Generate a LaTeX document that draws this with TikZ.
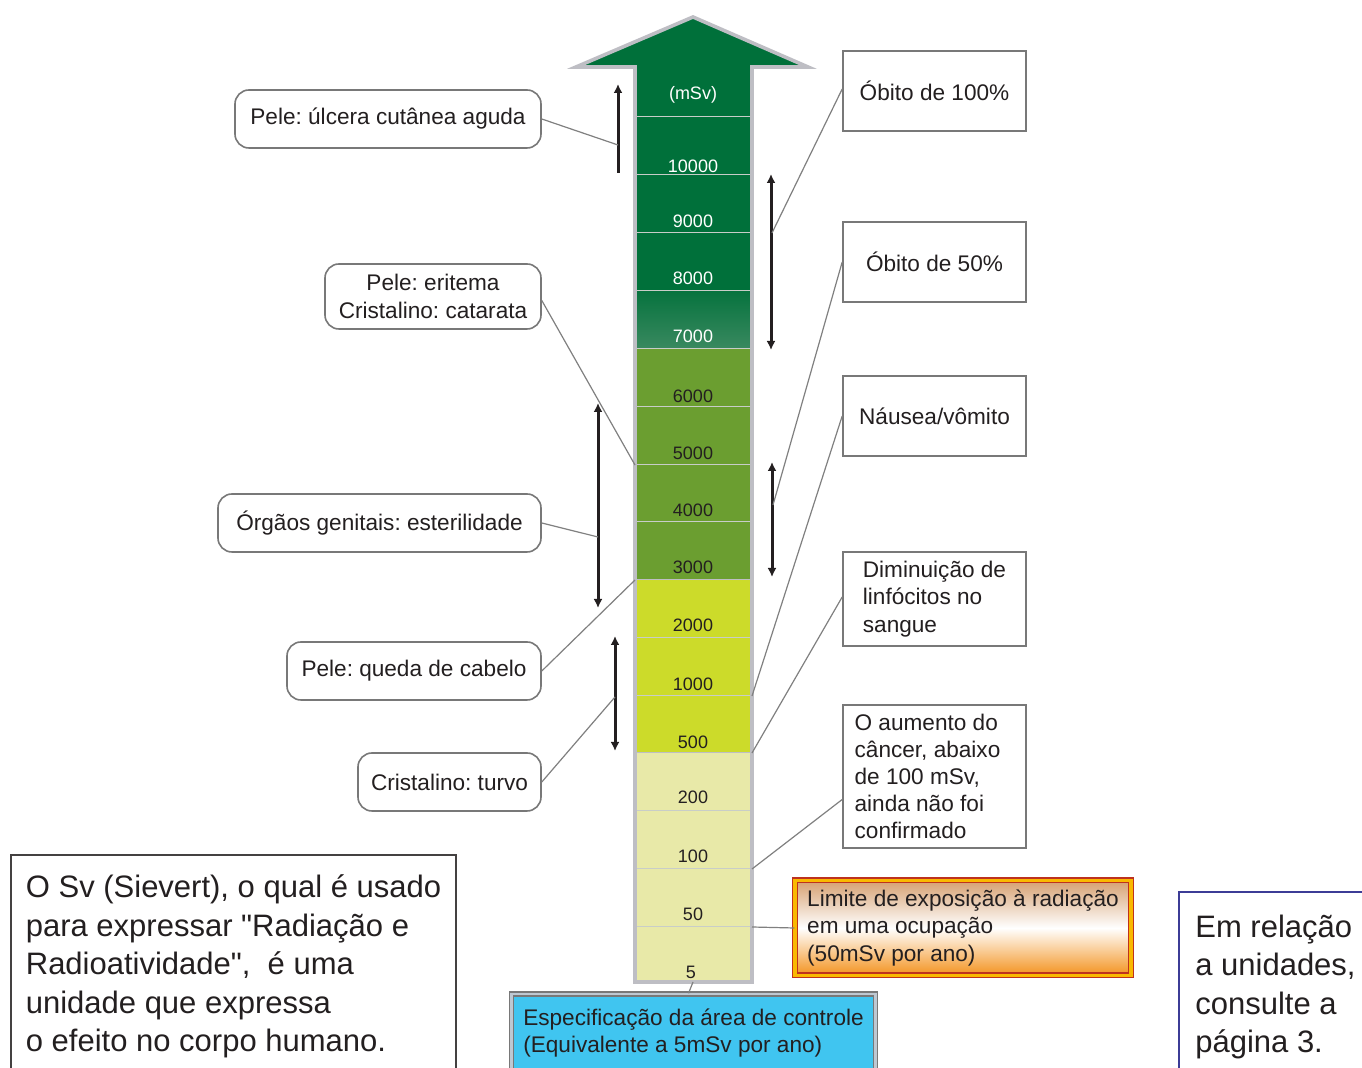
\documentclass[tikz,border=0pt]{standalone}
\usepackage{fontspec}
\setmainfont{Liberation Sans}
\font\qfont="Liberation Sans" at 15.5pt
\usetikzlibrary{arrows.meta}
\definecolor{dkgreen}{RGB}{0,112,58}
\definecolor{midgreen}{RGB}{64,140,100}
\definecolor{olivegr}{RGB}{107,158,48}
\definecolor{ygreen}{RGB}{204,219,42}
\definecolor{palegr}{RGB}{232,233,168}
\definecolor{ink}{RGB}{35,31,32}
\definecolor{outl}{RGB}{190,190,196}
\definecolor{sepl}{RGB}{200,205,200}
\definecolor{conn}{RGB}{128,128,128}
\definecolor{boxgray}{RGB}{120,120,120}
\definecolor{orTop}{RGB}{214,160,112}
\definecolor{orBot}{RGB}{243,146,30}
\definecolor{orRed}{RGB}{190,50,30}
\definecolor{orYel}{RGB}{250,185,0}
\definecolor{skyb}{RGB}{64,197,240}
\definecolor{skyedge}{RGB}{190,200,210}
\definecolor{unib}{RGB}{60,60,150}
\tikzset{
  txt/.style={font=\fontsize{11.3}{13.6}\selectfont, text=ink},
  lbox/.style={txt, draw=boxgray, line width=0.8pt, rounded corners=7pt, fill=white, align=center, inner sep=0pt},
  rbox/.style={txt, draw=boxgray, line width=0.8pt, fill=white, align=left, inner sep=0pt},
  num/.style={font=\fontsize{9}{10}\selectfont, text=ink, inner sep=0pt},
  wnum/.style={num, text=white},
  conn/.style={draw=conn, line width=0.6pt},
  darr/.style={draw=ink, line width=1.5pt, {Latex[length=4.5pt,width=4.5pt]}-{Latex[length=4.5pt,width=4.5pt]}},
  uarr/.style={draw=ink, line width=1.5pt, -{Latex[length=4.5pt,width=4.5pt]}},
  sepline/.style={draw=sepl, line width=0.5pt}
}
\begin{document}
\frenchspacing
\begin{tikzpicture}[x=0.5pt,y=-0.5pt]
\clip (0,0) rectangle (1362,1068);
\fill[white] (0,0) rectangle (1362,1068);

% ---- scale arrow fills ----
\fill[dkgreen] (576,67) -- (693,17) -- (808,67) -- (752,67) -- (752,291) -- (635,291) -- (635,67) -- cycle;
\shade[top color=dkgreen!90!midgreen, bottom color=midgreen!90!dkgreen] (635,291) rectangle (752,349);
\fill[olivegr] (635,349) rectangle (752,580);
\fill[ygreen] (635,580) rectangle (752,753);
\fill[palegr] (635,753) rectangle (752,982);
\foreach \yy in {117,175,233,291,349,407,465,522,638,696,811,869,927}
  \draw[sepline] (636,\yy) -- (751,\yy);
\draw[sepline, draw=outl] (636,580) -- (751,580);
\draw[sepline, draw=outl] (636,753) -- (751,753);
\draw[outl, line width=1.8pt, line join=miter] (576,67) -- (693,17) -- (808,67) -- (752,67) -- (752,982) -- (635,982) -- (635,67) -- cycle;

% ---- scale labels ----
\node[wnum] (lmsv) at (693,95) {(mSv)};
\node[wnum] (l10000) at (693,166) {10000};
\node[wnum] (l9000) at (693,221) {9000};
\node[wnum] (l8000) at (693,278) {8000};
\node[wnum] (l7000) at (693,336) {7000};
\node[num] (l6000) at (693,396) {6000};
\node[num] (l5000) at (693,453) {5000};
\node[num] (l4000) at (693,510) {4000};
\node[num] (l3000) at (693,567) {3000};
\node[num] (l2000) at (693,625) {2000};
\node[num] (l1000) at (693,684) {1000};
\node[num] (l500) at (693,742) {500};
\node[num] (l200) at (693,797) {200};
\node[num] (l100) at (693,856) {100};
\node[num] (l50) at (693,914) {50};
\node[num] (l5) at (691,972) {5};

% ---- range arrows ----
\coordinate (a1b) at (618,173);
\coordinate (a1t) at (618,84);
\coordinate (a2t) at (598,403);
\coordinate (a2b) at (598,608);
\coordinate (a3t) at (615,636);
\coordinate (a3b) at (615,751);
\coordinate (a4t) at (771,174);
\coordinate (a4b) at (771,350);
\coordinate (a5t) at (772,462);
\coordinate (a5b) at (772,577);
\draw[uarr] (a1b) -- (a1t);
\draw[darr] (a2t) -- (a2b);
\draw[darr] (a3t) -- (a3b);
\draw[darr] (a4t) -- (a4b);
\draw[darr] (a5t) -- (a5b);

% ---- attach points ----
\coordinate (p1) at (618,145);
\coordinate (p2) at (635,465);
\coordinate (p3) at (598,537);
\coordinate (p4) at (635,580);
\coordinate (p5) at (615,697);
\coordinate (q1) at (772,233);
\coordinate (q2) at (773,505);
\coordinate (q3) at (752,696);
\coordinate (q4) at (752,753);
\coordinate (q5) at (752,869);
\coordinate (q6) at (752,927);
\coordinate (q7) at (693,982);

% ---- left boxes ----
\node[lbox, minimum width=153pt, minimum height=29pt] (b1) at (388,119) {Pele: úlcera cutânea aguda};
\node[lbox, minimum width=108pt, minimum height=32.5pt] (b2) at (433,296.5) {Pele: eritema\\Cristalino: catarata};
\node[lbox, minimum width=161.5pt, minimum height=29pt] (b3) at (379.5,523) {Órgãos genitais: esterilidade};
\node[lbox, minimum width=127pt, minimum height=29pt] (b4) at (414,671) {Pele: queda de cabelo};
\node[lbox, minimum width=91.5pt, minimum height=29pt] (b5) at (449.5,782) {Cristalino: turvo};

% ---- right boxes ----
\node[rbox, minimum width=91.5pt, minimum height=40pt] (r1) at (934.5,91) {Óbito de 100\%};
\node[rbox, minimum width=91.5pt, minimum height=40pt] (r2) at (934.5,262) {Óbito de 50\%};
\node[rbox, minimum width=91.5pt, minimum height=40pt] (r3) at (934.5,416) {Náusea/vômito};
\node[rbox, minimum width=91.5pt, minimum height=47pt] (r4) at (934.5,599) {Diminuição de\\linfócitos no\\sangue};
\node[rbox, minimum width=91.5pt, minimum height=71.5pt] (r5) at (934.5,776.5) {O aumento do\\câncer, abaixo\hbox to 7pt{}\\de 100 mSv,\\ainda não foi\\confirmado};

\node[txt, align=left, inner sep=0pt, minimum width=168pt, minimum height=47.5pt,
      draw=orRed, line width=0.7pt, double=orYel, double distance=1.6pt,
      top color=orTop, bottom color=orBot, middle color=white] (lim) at (963,928)
  {Limite de exposição à radiação\\em uma ocupação\\(50mSv por ano)};

\node[txt, align=left, inner sep=0pt, minimum width=182pt, minimum height=39pt,
      draw=boxgray, line width=0.7pt, double=skyedge, double distance=1.4pt,
      fill=skyb] (esp) at (693.5,1033)
  {Especificação da área de controle\\(Equivalente a 5mSv por ano)};

% ---- bottom text boxes ----
\node[font=\fontsize{15.5}{19.3}\selectfont, text=ink, align=left, inner sep=0pt,
      draw=ink!85, line width=0.8pt, fill=white, minimum width=222.5pt, minimum height=111.5pt] (sv) at (233.5,966.5)
  {O Sv (Sievert), o qual é usado\\para expressar {\qfont "}Radiação e\\Radioatividade{\qfont "},~ é uma\\unidade que expressa\\o efeito no corpo humano.};
\node[font=\fontsize{15.5}{19.3}\selectfont, text=ink, align=left, inner sep=0pt,
      draw=unib, line width=0.8pt, fill=white, minimum width=96.5pt, minimum height=95pt] (uni) at (1275.5,987)
  {Em relação\\a unidades,\\consulte a\\página 3.};

% ---- connectors ----
\draw[conn] (b1.east) -- (p1);
\draw[conn] ([yshift=-2pt]b2.east) -- (p2);
\draw[conn] (b3.east) -- (p3);
\draw[conn] (b4.east) -- (p4);
\draw[conn] (b5.east) -- (p5);
\draw[conn] ([yshift=1pt]r1.west) -- (q1);
\draw[conn] (r2.west) -- (q2);
\draw[conn] (r3.west) -- (q3);
\draw[conn] ([yshift=1pt]r4.west) -- (q4);
\draw[conn] ([yshift=-11.5pt]r5.west) -- (q5);
\draw[conn] (lim.west) -- (q6);
\draw[conn] ([xshift=-2.5pt]esp.north) -- (q7);
\end{tikzpicture}
\end{document}
